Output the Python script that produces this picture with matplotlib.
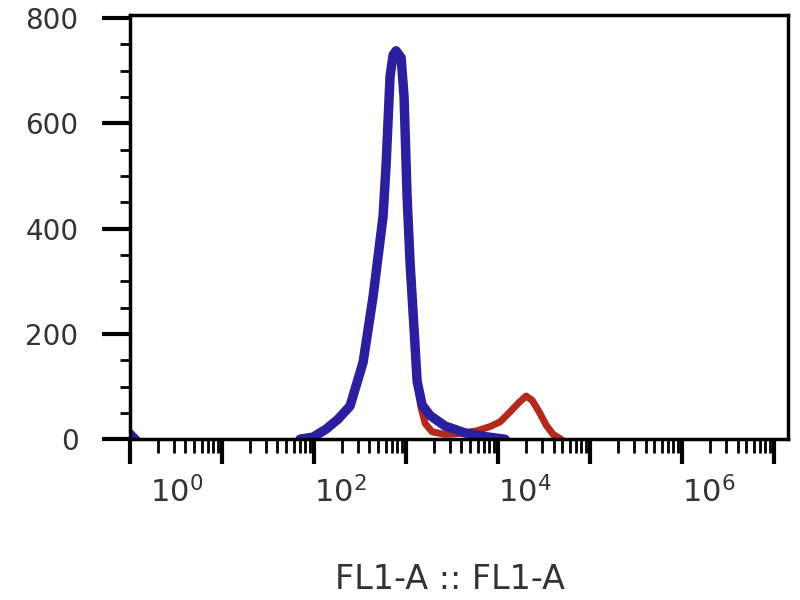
import matplotlib
matplotlib.use("Agg")
import matplotlib.pyplot as plt
import matplotlib.transforms as mtransforms
from matplotlib.ticker import LogLocator, MultipleLocator, NullFormatter

# ---- data ----
blue_fl1 = [70.4, 97.5, 135, 182, 246, 341, 438, 562, 606, 670, 723, 779, 883,
            951, 1026, 1105, 1222, 1318, 1493, 1824, 2655, 4375, 7220, 11900]
blue_counts = [0, 4, 19, 38, 63, 146, 271, 423, 520, 690, 730, 738, 725,
               650, 460, 335, 208, 110, 65, 45, 25, 12, 5, 0]

red_fl1 = [70.4, 97.5, 135, 182, 246, 341, 438, 562, 606, 670, 723, 779, 883,
           951, 1026, 1105, 1222, 1318, 1455, 1610, 1918, 2655, 3863, 5911,
           8185, 10510, 13500, 16900, 20140, 23420, 27900, 33230, 39600, 48400]
red_counts = [0, 4, 19, 38, 63, 146, 271, 423, 520, 690, 730, 738, 725,
              650, 460, 335, 208, 115, 60, 30, 14, 9, 11, 16,
              24, 33, 52, 70, 82, 74, 52, 27, 9, 0]

edge_fl1 = [1.0, 1.2]
edge_counts = [14, 0]

y_ticks = [0, 200, 400, 600, 800]
x_decades = [0, 1, 2, 3, 4, 5, 6, 7]
x_labeled = [0, 2, 4, 6]
x_label = "FL1-A :: FL1-A"

blue = "#2b1fa0"
red = "#b3291c"
txt = "#333333"

fig = plt.figure(figsize=(8, 6), dpi=100)
ax = fig.add_axes([0.1625, 0.268, 0.8225, 0.707])

ax.plot(red_fl1, red_counts, color=red, lw=5, solid_capstyle="round",
        solid_joinstyle="round", zorder=2)
ax.plot(blue_fl1, blue_counts, color=blue, lw=6.8, solid_capstyle="round",
        solid_joinstyle="round", zorder=3)
ax.plot(edge_fl1, edge_counts, color=blue, lw=4.5, solid_capstyle="round",
        zorder=3)

ax.set_xscale("log")
ax.set_xlim(1, 10 ** 7.15)
ax.set_ylim(0, 806)

for s in ax.spines.values():
    s.set_linewidth(2.5)
    s.set_color("black")
    s.set_zorder(4)

ax.set_xticks([10 ** d for d in x_decades])
ax.xaxis.set_minor_locator(LogLocator(base=10, subs=range(2, 10), numticks=20))
ax.xaxis.set_major_formatter(NullFormatter())
ax.xaxis.set_minor_formatter(NullFormatter())
ax.tick_params(axis="x", which="major", direction="out", length=18, width=3,
               color="black")
ax.tick_params(axis="x", which="minor", direction="out", length=10, width=2,
               color="black")

ax.set_yticks(y_ticks)
ax.yaxis.set_minor_locator(MultipleLocator(50))
ax.tick_params(axis="y", which="major", direction="out", length=20, width=3,
               color="black", labelsize=20, labelcolor=txt, pad=17)
ax.tick_params(axis="y", which="minor", direction="out", length=7, width=2,
               color="black")

trans = mtransforms.blended_transform_factory(ax.transData, ax.transAxes)
for d in x_labeled:
    dx = 20 if d == 0 else 0
    off = mtransforms.ScaledTranslation(dx / 100, -37 / 100, fig.dpi_scale_trans)
    ax.text(10 ** d, 0, r"$\mathregular{10^{%d}}$" % d, transform=trans + off,
            ha="left", va="top", fontsize=22, color=txt)

fig.text(0.5625, 1 - 589 / 600, x_label, ha="center", va="baseline",
         fontsize=24, color=txt)

fig.savefig("out.png", dpi=100, facecolor="white")
